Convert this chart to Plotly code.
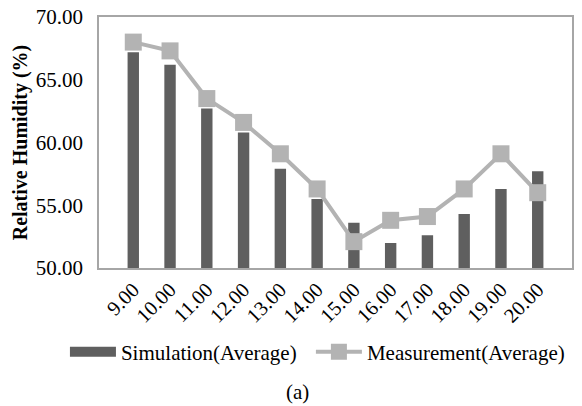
import plotly.graph_objects as go

hours = ["9.00", "10.00", "11.00", "12.00", "13.00", "14.00",
         "15.00", "16.00", "17.00", "18.00", "19.00", "20.00"]
simulation_avg = [67.2, 66.2, 62.7, 60.8, 57.9, 55.5, 53.6, 52.0, 52.6, 54.3, 56.3, 57.7]
measurement_avg = [68.0, 67.3, 63.5, 61.6, 59.1, 56.3, 52.1, 53.8, 54.1, 56.3, 59.1, 56.0]

serif = "Liberation Serif"
bar_color = "#5f5f5f"
line_color = "#b3b3b3"

fig = go.Figure()
fig.add_trace(go.Bar(
    x=hours, y=simulation_avg, name="Simulation(Average)",
    marker=dict(color=bar_color, line=dict(width=0)),
    width=0.31, showlegend=False,
))
# legend entry for the bars, drawn as a wide filled swatch
fig.add_trace(go.Scatter(
    x=[None], y=[None], name="Simulation(Average)", mode="lines",
    line=dict(color=bar_color, width=10), legend="legend",
))
fig.add_trace(go.Scatter(
    x=hours, y=measurement_avg, name="Measurement(Average)",
    mode="lines+markers",
    line=dict(color=line_color, width=4),
    marker=dict(symbol="square", size=17, color=line_color),
    legend="legend2",
))

legend_style = dict(orientation="h", yanchor="middle", y=-0.335, xanchor="left",
                    font=dict(family=serif, size=21), itemwidth=46,
                    bgcolor="rgba(0,0,0,0)", borderwidth=0)

fig.update_layout(
    width=582, height=406,
    margin=dict(l=99, r=10, t=17, b=138),
    paper_bgcolor="white", plot_bgcolor="white",
    font=dict(family=serif, size=21, color="black"),
    showlegend=True,
    legend=dict(x=-0.072, **legend_style),
    legend2=dict(x=0.448, **legend_style),
)
fig.update_xaxes(
    type="category", tickangle=-45, showline=True, mirror=True, automargin=False,
    linecolor="#a6a6a6", linewidth=1.5, ticks="", showgrid=False,
    tickfont=dict(family=serif, size=20.5),
)
fig.update_yaxes(
    range=[50, 70], dtick=5, tickformat=".2f", showline=True, mirror=True,
    automargin=False, ticklabelstandoff=10,
    linecolor="#a6a6a6", linewidth=1.5, ticks="", showgrid=False, zeroline=False,
    tickfont=dict(family=serif, size=21),
    title=dict(text="<b>Relative Humidity (%)</b>", font=dict(family=serif, size=20), standoff=3),
)
fig.add_annotation(
    text="(a)", xref="paper", yref="paper", x=0.419, y=-0.494,
    xanchor="center", yanchor="middle", showarrow=False,
    font=dict(family=serif, size=21),
)

fig.write_html("out.html")
